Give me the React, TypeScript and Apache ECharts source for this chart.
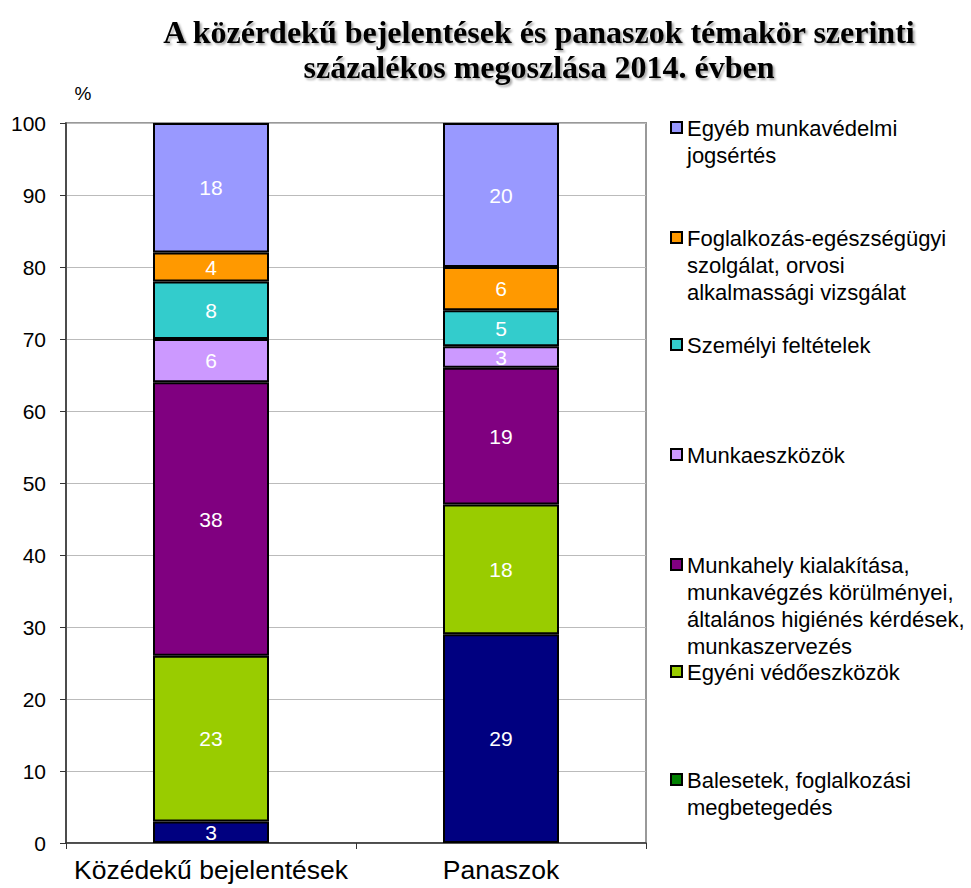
import React, { useEffect, useRef } from "react";
import * as echarts from "echarts";

const titleText = "A közérdekű bejelentések és panaszok témakör szerinti\nszázalékos megoszlása 2014. évben";
const yUnit = "%";
const categories = ["Közédekű bejelentések", "Panaszok"];
const seriesNames = [
  "Balesetek, foglalkozási\nmegbetegedés",
  "Egyéni védőeszközök",
  "Munkahely kialakítása,\nmunkavégzés körülményei,\náltalános higiénés kérdések,\nmunkaszervezés",
  "Munkaeszközök",
  "Személyi feltételek",
  "Foglalkozás-egészségügyi\nszolgálat, orvosi\nalkalmassági vizsgálat",
  "Egyéb munkavédelmi\njogsértés",
];
const balesetek = [3, 29];
const egyeni = [23, 18];
const munkahely = [38, 19];
const munkaeszkozok = [6, 3];
const szemelyi = [8, 5];
const foglalkozas = [4, 6];
const egyeb = [18, 20];
const seriesValues = [balesetek, egyeni, munkahely, munkaeszkozok, szemelyi, foglalkozas, egyeb];
const barColors = ["#000080", "#99CC00", "#800080", "#CC99FF", "#33CCCC", "#FF9900", "#9999FF"];
const legendColors = ["#008000", "#99CC00", "#800080", "#CC99FF", "#33CCCC", "#FF9900", "#9999FF"];
const legendFirstLineY = [780, 672, 565, 455, 345, 238, 128];

export default function App() {
  const ref = useRef<HTMLDivElement>(null);
  useEffect(() => {
    if (!ref.current) return;
    const chart = echarts.init(ref.current, undefined, { renderer: "svg" });
    const sans = '"Liberation Sans", Arial, sans-serif';
    const lineH = 27;
    const legendGraphics: any[] = [];
    seriesNames.forEach((name, i) => {
      const yc = legendFirstLineY[i];
      legendGraphics.push({
        type: "rect",
        shape: { x: 671, y: yc - 6, width: 11, height: 11 },
        style: { fill: legendColors[i], stroke: "#000", lineWidth: 2 },
      });
      legendGraphics.push({
        type: "text",
        x: 687,
        y: yc - lineH / 2,
        style: {
          text: name,
          font: `22px ${sans}`,
          lineHeight: lineH,
          fill: "#000",
          textVerticalAlign: "top",
          textAlign: "left",
        },
      });
    });
    chart.setOption({
      animation: false,
      backgroundColor: "#fff",
      grid: {
        left: 66,
        top: 123,
        width: 580,
        height: 720,
        show: true,
        borderColor: "#999",
        borderWidth: 2,
        backgroundColor: "transparent",
      },
      xAxis: {
        type: "category",
        data: categories,
        axisLine: { lineStyle: { color: "#333", width: 1.5 } },
        axisTick: { show: true, alignWithLabel: false, length: 6, lineStyle: { color: "#333" } },
        axisLabel: { color: "#000", fontSize: 26.5, fontFamily: sans, margin: 13, interval: 0 },
      },
      yAxis: {
        type: "value",
        min: 0,
        max: 100,
        interval: 10,
        axisLine: { show: true, lineStyle: { color: "#333", width: 1.5 } },
        axisTick: { show: true, length: 6, lineStyle: { color: "#333" } },
        axisLabel: { color: "#000", fontSize: 21, fontFamily: sans, margin: 20 },
        splitLine: { show: true, lineStyle: { color: "#BBB", width: 1 } },
      },
      series: seriesValues.map((vals, i) => ({
        type: "bar",
        name: seriesNames[i],
        stack: "total",
        data: vals,
        barWidth: 116,
        itemStyle: { color: barColors[i], borderColor: "#000", borderWidth: 2 },
        label: {
          show: true,
          position: "inside",
          color: "#fff",
          fontSize: 21,
          fontFamily: sans,
        },
      })),
      graphic: [
        {
          type: "text",
          x: 539,
          y: 14,
          style: {
            text: titleText,
            font: `bold 32px "Liberation Serif", "Times New Roman", serif`,
            lineHeight: 35,
            fill: "#000",
            textAlign: "center",
            textVerticalAlign: "top",
            textShadowColor: "rgba(0,0,0,0.35)",
            textShadowOffsetX: 2,
            textShadowOffsetY: 2,
            textShadowBlur: 2,
          },
        },
        {
          type: "text",
          x: 83,
          y: 93,
          style: {
            text: yUnit,
            font: `19px ${sans}`,
            fill: "#000",
            textAlign: "center",
            textVerticalAlign: "middle",
          },
        },
        ...legendGraphics,
      ],
    });
    return () => chart.dispose();
  }, []);
  return <div ref={ref} style={{ width: 971, height: 888, position: "absolute", left: 0, top: 0 }} />;
}
